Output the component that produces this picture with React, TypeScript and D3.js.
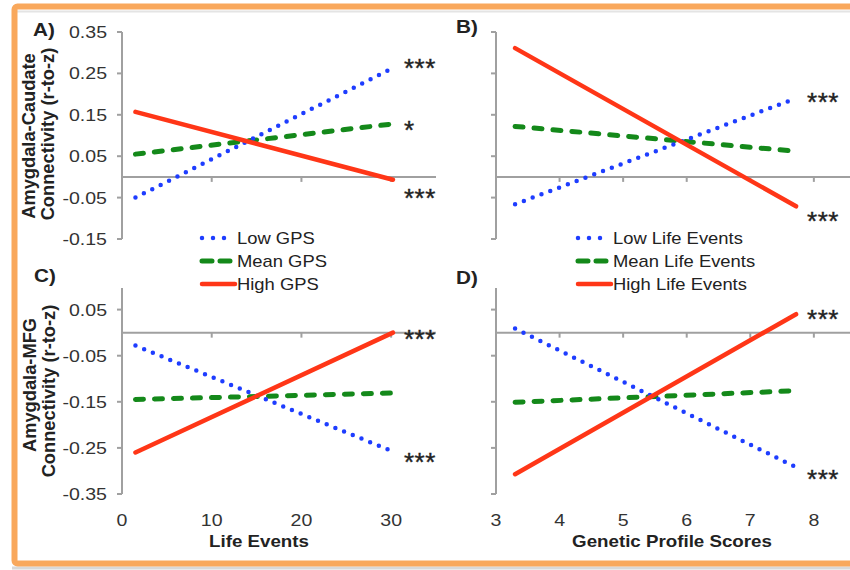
import React from 'react';
import * as d3 from 'd3';

// values
const lifeEventsX = [1.5, 30.2];
const gpsX = [3.3, 7.72];
const lifeTicks = [0, 10, 20, 30];
const gpsTicks = [3, 4, 5, 6, 7, 8];
const caudateTicks = [-0.15, -0.05, 0.05, 0.15, 0.25, 0.35];
const mfgTicks = [-0.35, -0.25, -0.15, -0.05, 0.05];

const gpsLegend = ['Low GPS', 'Mean GPS', 'High GPS'];
const lifeLegend = ['Low Life Events', 'Mean Life Events', 'High Life Events'];

// A: caudate vs life events, B: caudate vs GPS, C: MFG vs life events, D: MFG vs GPS
const panelA = { low: [-0.05, 0.263], mean: [0.055, 0.128], high: [0.157, -0.007] };
const panelB = { low: [-0.066, 0.19], mean: [0.122, 0.062], high: [0.311, -0.071] };
const panelC = { low: [-0.028, -0.258], mean: [-0.145, -0.131], high: [-0.26, 0.0] };
const panelD = { low: [0.009, -0.292], mean: [-0.151, -0.126], high: [-0.307, 0.04] };

const sigA = [['low', '***', -6], ['mean', '*', 0], ['high', '***', 12]];
const sigB = [['low', '***', -2], ['high', '***', 9]];
const sigC = [['high', '***', 0], ['low', '***', 4]];
const sigD = [['high', '***', -1], ['low', '***', 6]];

const FONT = '"Liberation Sans", Arial, Helvetica, sans-serif';
const SX = 1.15;
const AXIS = '#a0a0a0';
const INK = '#222';

const styles: Record<string, any> = {
  low: { stroke: '#1e3dff', strokeWidth: 4.5, strokeDasharray: '0 9.4', strokeLinecap: 'round' },
  mean: { stroke: '#14891a', strokeWidth: 5, strokeDasharray: '8 11', strokeLinecap: 'round' },
  high: { stroke: '#ff3617', strokeWidth: 4.5, strokeLinecap: 'round' },
};
const legendStyles: Record<string, any> = {
  low: { ...styles.low, strokeDasharray: '0 11' },
  mean: { ...styles.mean, strokeDasharray: '10 8' },
  high: styles.high,
};

const leftX = d3.scaleLinear().domain([0, 35]).range([122, 436]);
const rightX = d3.scaleLinear().domain([3, 8.6]).range([496, 852]);
const topY = d3.scaleLinear().domain([-0.15, 0.35]).range([239, 32]);
const botY = d3.scaleLinear().domain([-0.35, 0.05]).range([494, 309.6]);

function T(props: any) {
  const { x, y, size = 16, bold = false, anchor = 'start', sx = SX, children, ...rest } = props;
  return (
    <text
      transform={`translate(${x},${y}) scale(${sx},1)`}
      fontFamily={FONT}
      fontSize={size}
      fontWeight={bold ? 'bold' : 'normal'}
      textAnchor={anchor}
      fill={INK}
      {...rest}
    >
      {children}
    </text>
  );
}

function Panel(props: any) {
  const { x, y, xs, data, yTicks, xTicks, yLabels, xLabels, axisTop, zeroEnd, sig } = props;
  const x0 = x.range()[0];
  const keys = ['mean', 'low', 'high'];
  const line = d3.line<number>().x((_, i) => x(xs[i])).y((v) => y(v));
  const endX = x(xs[1]);
  return (
    <g>
      {/* y axis */}
      <line x1={x0} x2={x0} y1={axisTop ?? y(yTicks[yTicks.length - 1])} y2={y(yTicks[0])} stroke={AXIS} strokeWidth={2} />
      {yTicks.map((t: number) => (
        <line key={t} x1={x0 - 5} x2={x0} y1={y(t)} y2={y(t)} stroke={AXIS} strokeWidth={2} />
      ))}
      {/* zero line with x ticks */}
      <line x1={x0} x2={zeroEnd} y1={y(0)} y2={y(0)} stroke={AXIS} strokeWidth={2} />
      {xTicks.slice(1).map((t: number) => (
        <line key={t} x1={x(t)} x2={x(t)} y1={y(0)} y2={y(0) + 5} stroke={AXIS} strokeWidth={2} />
      ))}
      {yLabels &&
        yTicks.map((t: number) => (
          <T key={t} x={x0 - 15} y={y(t) + 6} size={17} anchor="end" fill="#333">
            {t.toFixed(2)}
          </T>
        ))}
      {xLabels &&
        xTicks.map((t: number) => (
          <T key={t} x={x(t)} y={526} size={17} anchor="middle" fill="#333">
            {t}
          </T>
        ))}
      {keys.map((k) => (
        <path key={k} d={line(data[k]) || ''} fill="none" {...styles[k]} />
      ))}
      {sig.map(([k, s, dy]: any) => (
        <T key={k} x={endX + 11} y={y(data[k][1]) + dy + 15} size={26} sx={1} letterSpacing={0.5}
          stroke={INK} strokeWidth={0.4}>
          {s}
        </T>
      ))}
    </g>
  );
}

function Legend(props: any) {
  const { x, labels } = props;
  const keys = ['low', 'mean', 'high'];
  const rows = [238, 261, 284];
  return (
    <g>
      {keys.map((k, i) => (
        <g key={k}>
          <line x1={x} x2={x + 33} y1={rows[i]} y2={rows[i]} {...legendStyles[k]} />
          <T x={x + 35} y={rows[i] + 6} size={16}>
            {labels[i]}
          </T>
        </g>
      ))}
    </g>
  );
}

export default function App() {
  return (
    <svg width={850} height={570} style={{ position: 'absolute', left: 0, top: 0, background: '#fff' }}>
      <rect x={0} y={0} width={850} height={570} fill="#fff" />
      {/* frame */}
      <line x1={12} x2={850} y1={568} y2={568} stroke="#d8d8d8" strokeWidth={3} />
      <line x1={17} x2={850} y1={11.5} y2={11.5} stroke="#e4e4e4" strokeWidth={2} />
      <rect x={14.5} y={6.5} width={860} height={557} rx={3} fill="none" stroke="#f9a85c" strokeWidth={6} />

      <Panel x={leftX} y={topY} xs={lifeEventsX} data={panelA} yTicks={caudateTicks} xTicks={lifeTicks}
        yLabels zeroEnd={436} sig={sigA} />
      <Panel x={rightX} y={topY} xs={gpsX} data={panelB} yTicks={caudateTicks} xTicks={gpsTicks}
        zeroEnd={850} sig={sigB} />
      <Panel x={leftX} y={botY} xs={lifeEventsX} data={panelC} yTicks={mfgTicks} xTicks={lifeTicks}
        yLabels xLabels axisTop={288} zeroEnd={436} sig={sigC} />
      <Panel x={rightX} y={botY} xs={gpsX} data={panelD} yTicks={mfgTicks} xTicks={gpsTicks}
        xLabels axisTop={288} zeroEnd={850} sig={sigD} />

      <Legend x={202} labels={gpsLegend} />
      <Legend x={578} labels={lifeLegend} />

      {/* panel letters */}
      <T x={33} y={36} size={18} bold>A)</T>
      <T x={456} y={33} size={18} bold>B)</T>
      <T x={34} y={282} size={18} bold>C)</T>
      <T x={456} y={284} size={18} bold>D)</T>

      {/* axis titles */}
      <g fontFamily={FONT} fontWeight="bold" fontSize={18.3} fill={INK} textAnchor="middle">
        <text transform="translate(35,136) rotate(-90)">Amygdala-Caudate</text>
        <text transform="translate(54,134) rotate(-90)">Connectivity (r-to-z)</text>
        <text transform="translate(36,385) rotate(-90)">Amygdala-MFG</text>
        <text transform="translate(55,391) rotate(-90)">Connectivity (r-to-z)</text>
      </g>
      <T x={259} y={547} size={16.3} bold anchor="middle">Life Events</T>
      <T x={672} y={547} size={16.3} bold anchor="middle">Genetic Profile Scores</T>
    </svg>
  );
}
